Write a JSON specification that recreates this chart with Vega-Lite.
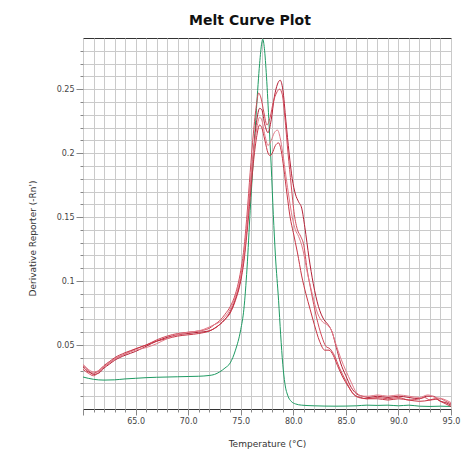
{
  "$schema": "https://vega.github.io/schema/vega-lite/v6.json",
  "width": 368,
  "height": 371,
  "autosize": "none",
  "padding": {"left": 83, "top": 38, "right": 13, "bottom": 41},
  "background": "white",
  "title": {"text": "Melt Curve Plot", "font": "DejaVu Sans", "fontSize": 14, "fontWeight": "bold", "color": "#111111", "anchor": "middle", "dx": -17, "offset": 10},
  "config": {
    "view": {"stroke": "#333333", "strokeWidth": 1},
    "axis": {
      "domain": false,
      "grid": true,
      "gridColor": "#cacaca",
      "gridWidth": 1,
      "tickColor": "#888888",
      "labelFont": "DejaVu Sans",
      "labelFontSize": 8,
      "labelColor": "#444444",
      "titleFont": "DejaVu Sans",
      "titleFontSize": 9,
      "titleFontWeight": "normal",
      "titleColor": "#333333"
    }
  },
  "data": {"values": [
    {"s":"G","t":60,"v":0.025},{"s":"G","t":60.5,"v":0.024},{"s":"G","t":61,"v":0.0232},{"s":"G","t":62,"v":0.0226},{"s":"G","t":63,"v":0.0228},{"s":"G","t":64,"v":0.0235},{"s":"G","t":65,"v":0.024},{"s":"G","t":66,"v":0.0245},{"s":"G","t":67,"v":0.0248},{"s":"G","t":68,"v":0.025},{"s":"G","t":69,"v":0.0252},{"s":"G","t":70,"v":0.0254},{"s":"G","t":71,"v":0.0256},{"s":"G","t":72,"v":0.0262},{"s":"G","t":72.5,"v":0.027},{"s":"G","t":73,"v":0.029},{"s":"G","t":73.5,"v":0.032},{"s":"G","t":74,"v":0.036},{"s":"G","t":74.5,"v":0.046},{"s":"G","t":75,"v":0.062},{"s":"G","t":75.3,"v":0.078},{"s":"G","t":75.6,"v":0.11},{"s":"G","t":75.9,"v":0.155},{"s":"G","t":76.2,"v":0.195},{"s":"G","t":76.5,"v":0.235},{"s":"G","t":76.8,"v":0.27},{"s":"G","t":77,"v":0.286},{"s":"G","t":77.1,"v":0.289},{"s":"G","t":77.25,"v":0.282},{"s":"G","t":77.45,"v":0.26},{"s":"G","t":77.7,"v":0.222},{"s":"G","t":77.9,"v":0.19},{"s":"G","t":78.1,"v":0.152},{"s":"G","t":78.3,"v":0.12},{"s":"G","t":78.6,"v":0.085},{"s":"G","t":78.8,"v":0.058},{"s":"G","t":79,"v":0.035},{"s":"G","t":79.2,"v":0.02},{"s":"G","t":79.5,"v":0.01},{"s":"G","t":79.8,"v":0.006},{"s":"G","t":80.2,"v":0.004},{"s":"G","t":80.8,"v":0.003},{"s":"G","t":82,"v":0.0025},{"s":"G","t":84,"v":0.0022},{"s":"G","t":86,"v":0.0025},{"s":"G","t":87,"v":0.003},{"s":"G","t":88,"v":0.0028},{"s":"G","t":89,"v":0.003},{"s":"G","t":90,"v":0.0025},{"s":"G","t":91,"v":0.003},{"s":"G","t":92,"v":0.0022},{"s":"G","t":93,"v":0.002},{"s":"G","t":94,"v":0.0022},{"s":"G","t":95,"v":0.002},

    {"s":"R1","t":60,"v":0.034},{"s":"R1","t":60.5,"v":0.03},{"s":"R1","t":61,"v":0.027},{"s":"R1","t":61.5,"v":0.028},{"s":"R1","t":62,"v":0.032},{"s":"R1","t":62.5,"v":0.035},{"s":"R1","t":63,"v":0.038},{"s":"R1","t":64,"v":0.042},{"s":"R1","t":65,"v":0.045},{"s":"R1","t":66,"v":0.049},{"s":"R1","t":67,"v":0.053},{"s":"R1","t":68,"v":0.056},{"s":"R1","t":69,"v":0.058},{"s":"R1","t":70,"v":0.059},{"s":"R1","t":71,"v":0.06},{"s":"R1","t":72,"v":0.061},{"s":"R1","t":72.5,"v":0.063},{"s":"R1","t":73,"v":0.066},{"s":"R1","t":73.5,"v":0.07},{"s":"R1","t":74,"v":0.076},{"s":"R1","t":74.5,"v":0.086},{"s":"R1","t":75,"v":0.102},{"s":"R1","t":75.3,"v":0.118},{"s":"R1","t":75.6,"v":0.142},{"s":"R1","t":75.9,"v":0.172},{"s":"R1","t":76.2,"v":0.2},{"s":"R1","t":76.5,"v":0.224},{"s":"R1","t":76.8,"v":0.235},{"s":"R1","t":77,"v":0.234},{"s":"R1","t":77.3,"v":0.222},{"s":"R1","t":77.6,"v":0.216},{"s":"R1","t":77.9,"v":0.226},{"s":"R1","t":78.2,"v":0.244},{"s":"R1","t":78.5,"v":0.254},{"s":"R1","t":78.75,"v":0.257},{"s":"R1","t":79,"v":0.25},{"s":"R1","t":79.3,"v":0.225},{"s":"R1","t":79.6,"v":0.2},{"s":"R1","t":79.9,"v":0.18},{"s":"R1","t":80.2,"v":0.168},{"s":"R1","t":80.5,"v":0.162},{"s":"R1","t":80.8,"v":0.157},{"s":"R1","t":81.1,"v":0.142},{"s":"R1","t":81.5,"v":0.118},{"s":"R1","t":81.9,"v":0.098},{"s":"R1","t":82.4,"v":0.08},{"s":"R1","t":82.9,"v":0.07},{"s":"R1","t":83.3,"v":0.066},{"s":"R1","t":83.7,"v":0.06},{"s":"R1","t":84.1,"v":0.048},{"s":"R1","t":84.5,"v":0.036},{"s":"R1","t":85,"v":0.026},{"s":"R1","t":85.5,"v":0.017},{"s":"R1","t":86,"v":0.012},{"s":"R1","t":86.6,"v":0.01},{"s":"R1","t":87.2,"v":0.009},{"s":"R1","t":88,"v":0.01},{"s":"R1","t":89,"v":0.009},{"s":"R1","t":90,"v":0.01},{"s":"R1","t":91,"v":0.009},{"s":"R1","t":92,"v":0.008},{"s":"R1","t":92.7,"v":0.01},{"s":"R1","t":93.3,"v":0.01},{"s":"R1","t":94,"v":0.006},{"s":"R1","t":94.5,"v":0.005},{"s":"R1","t":95,"v":0.003},

    {"s":"R2","t":60,"v":0.031},{"s":"R2","t":60.5,"v":0.028},{"s":"R2","t":61,"v":0.026},{"s":"R2","t":61.5,"v":0.029},{"s":"R2","t":62,"v":0.033},{"s":"R2","t":62.5,"v":0.036},{"s":"R2","t":63,"v":0.039},{"s":"R2","t":64,"v":0.043},{"s":"R2","t":65,"v":0.047},{"s":"R2","t":66,"v":0.05},{"s":"R2","t":67,"v":0.054},{"s":"R2","t":68,"v":0.057},{"s":"R2","t":69,"v":0.059},{"s":"R2","t":70,"v":0.06},{"s":"R2","t":71,"v":0.061},{"s":"R2","t":72,"v":0.063},{"s":"R2","t":72.5,"v":0.066},{"s":"R2","t":73,"v":0.069},{"s":"R2","t":73.5,"v":0.074},{"s":"R2","t":74,"v":0.08},{"s":"R2","t":74.5,"v":0.09},{"s":"R2","t":75,"v":0.108},{"s":"R2","t":75.3,"v":0.125},{"s":"R2","t":75.6,"v":0.152},{"s":"R2","t":75.9,"v":0.185},{"s":"R2","t":76.2,"v":0.215},{"s":"R2","t":76.5,"v":0.238},{"s":"R2","t":76.7,"v":0.247},{"s":"R2","t":76.9,"v":0.244},{"s":"R2","t":77.2,"v":0.232},{"s":"R2","t":77.5,"v":0.222},{"s":"R2","t":77.8,"v":0.228},{"s":"R2","t":78.1,"v":0.24},{"s":"R2","t":78.4,"v":0.247},{"s":"R2","t":78.7,"v":0.25},{"s":"R2","t":78.95,"v":0.246},{"s":"R2","t":79.2,"v":0.228},{"s":"R2","t":79.5,"v":0.2},{"s":"R2","t":79.8,"v":0.175},{"s":"R2","t":80.1,"v":0.152},{"s":"R2","t":80.4,"v":0.14},{"s":"R2","t":80.7,"v":0.135},{"s":"R2","t":81,"v":0.128},{"s":"R2","t":81.3,"v":0.11},{"s":"R2","t":81.7,"v":0.092},{"s":"R2","t":82.2,"v":0.072},{"s":"R2","t":82.7,"v":0.057},{"s":"R2","t":83.1,"v":0.049},{"s":"R2","t":83.5,"v":0.047},{"s":"R2","t":83.9,"v":0.042},{"s":"R2","t":84.4,"v":0.032},{"s":"R2","t":85,"v":0.022},{"s":"R2","t":85.6,"v":0.013},{"s":"R2","t":86.2,"v":0.009},{"s":"R2","t":87,"v":0.008},{"s":"R2","t":88,"v":0.009},{"s":"R2","t":89,"v":0.008},{"s":"R2","t":90,"v":0.009},{"s":"R2","t":91,"v":0.007},{"s":"R2","t":92,"v":0.008},{"s":"R2","t":92.5,"v":0.009},{"s":"R2","t":93,"v":0.007},{"s":"R2","t":94,"v":0.008},{"s":"R2","t":94.5,"v":0.006},{"s":"R2","t":95,"v":0.004},

    {"s":"R3","t":60,"v":0.033},{"s":"R3","t":60.5,"v":0.029},{"s":"R3","t":61,"v":0.028},{"s":"R3","t":61.5,"v":0.03},{"s":"R3","t":62,"v":0.034},{"s":"R3","t":62.5,"v":0.037},{"s":"R3","t":63,"v":0.04},{"s":"R3","t":64,"v":0.044},{"s":"R3","t":65,"v":0.047},{"s":"R3","t":66,"v":0.05},{"s":"R3","t":67,"v":0.053},{"s":"R3","t":68,"v":0.055},{"s":"R3","t":69,"v":0.057},{"s":"R3","t":70,"v":0.058},{"s":"R3","t":71,"v":0.059},{"s":"R3","t":72,"v":0.061},{"s":"R3","t":72.5,"v":0.063},{"s":"R3","t":73,"v":0.066},{"s":"R3","t":73.5,"v":0.07},{"s":"R3","t":74,"v":0.075},{"s":"R3","t":74.5,"v":0.085},{"s":"R3","t":75,"v":0.1},{"s":"R3","t":75.3,"v":0.115},{"s":"R3","t":75.6,"v":0.138},{"s":"R3","t":75.9,"v":0.165},{"s":"R3","t":76.2,"v":0.192},{"s":"R3","t":76.5,"v":0.212},{"s":"R3","t":76.8,"v":0.222},{"s":"R3","t":77,"v":0.22},{"s":"R3","t":77.3,"v":0.21},{"s":"R3","t":77.6,"v":0.2},{"s":"R3","t":77.8,"v":0.198},{"s":"R3","t":78,"v":0.2},{"s":"R3","t":78.3,"v":0.206},{"s":"R3","t":78.6,"v":0.208},{"s":"R3","t":78.85,"v":0.202},{"s":"R3","t":79.1,"v":0.188},{"s":"R3","t":79.4,"v":0.168},{"s":"R3","t":79.7,"v":0.15},{"s":"R3","t":80,"v":0.138},{"s":"R3","t":80.4,"v":0.122},{"s":"R3","t":80.8,"v":0.104},{"s":"R3","t":81.2,"v":0.09},{"s":"R3","t":81.6,"v":0.078},{"s":"R3","t":82,"v":0.066},{"s":"R3","t":82.5,"v":0.053},{"s":"R3","t":83,"v":0.046},{"s":"R3","t":83.4,"v":0.046},{"s":"R3","t":83.8,"v":0.042},{"s":"R3","t":84.2,"v":0.034},{"s":"R3","t":84.7,"v":0.025},{"s":"R3","t":85.2,"v":0.018},{"s":"R3","t":85.8,"v":0.011},{"s":"R3","t":86.4,"v":0.009},{"s":"R3","t":87,"v":0.008},{"s":"R3","t":88,"v":0.008},{"s":"R3","t":89,"v":0.007},{"s":"R3","t":90,"v":0.008},{"s":"R3","t":91,"v":0.007},{"s":"R3","t":92,"v":0.006},{"s":"R3","t":93,"v":0.007},{"s":"R3","t":93.5,"v":0.008},{"s":"R3","t":94,"v":0.006},{"s":"R3","t":95,"v":0.002},

    {"s":"R4","t":60,"v":0.035},{"s":"R4","t":60.5,"v":0.031},{"s":"R4","t":61,"v":0.029},{"s":"R4","t":61.5,"v":0.03},{"s":"R4","t":62,"v":0.033},{"s":"R4","t":62.5,"v":0.036},{"s":"R4","t":63,"v":0.039},{"s":"R4","t":64,"v":0.043},{"s":"R4","t":65,"v":0.046},{"s":"R4","t":66,"v":0.048},{"s":"R4","t":67,"v":0.051},{"s":"R4","t":68,"v":0.055},{"s":"R4","t":69,"v":0.058},{"s":"R4","t":70,"v":0.06},{"s":"R4","t":71,"v":0.061},{"s":"R4","t":72,"v":0.064},{"s":"R4","t":72.5,"v":0.066},{"s":"R4","t":73,"v":0.068},{"s":"R4","t":73.5,"v":0.072},{"s":"R4","t":74,"v":0.078},{"s":"R4","t":74.5,"v":0.088},{"s":"R4","t":75,"v":0.104},{"s":"R4","t":75.3,"v":0.12},{"s":"R4","t":75.6,"v":0.145},{"s":"R4","t":75.9,"v":0.175},{"s":"R4","t":76.2,"v":0.2},{"s":"R4","t":76.5,"v":0.218},{"s":"R4","t":76.8,"v":0.228},{"s":"R4","t":77,"v":0.226},{"s":"R4","t":77.3,"v":0.214},{"s":"R4","t":77.6,"v":0.206},{"s":"R4","t":77.9,"v":0.21},{"s":"R4","t":78.2,"v":0.216},{"s":"R4","t":78.5,"v":0.218},{"s":"R4","t":78.75,"v":0.212},{"s":"R4","t":79,"v":0.2},{"s":"R4","t":79.3,"v":0.182},{"s":"R4","t":79.6,"v":0.165},{"s":"R4","t":79.9,"v":0.15},{"s":"R4","t":80.2,"v":0.14},{"s":"R4","t":80.5,"v":0.135},{"s":"R4","t":80.9,"v":0.125},{"s":"R4","t":81.3,"v":0.108},{"s":"R4","t":81.8,"v":0.09},{"s":"R4","t":82.3,"v":0.075},{"s":"R4","t":82.8,"v":0.068},{"s":"R4","t":83.2,"v":0.066},{"s":"R4","t":83.6,"v":0.062},{"s":"R4","t":84,"v":0.052},{"s":"R4","t":84.5,"v":0.04},{"s":"R4","t":85,"v":0.03},{"s":"R4","t":85.5,"v":0.021},{"s":"R4","t":86,"v":0.013},{"s":"R4","t":86.6,"v":0.01},{"s":"R4","t":87.2,"v":0.01},{"s":"R4","t":88,"v":0.011},{"s":"R4","t":89,"v":0.01},{"s":"R4","t":90,"v":0.011},{"s":"R4","t":91,"v":0.01},{"s":"R4","t":92,"v":0.009},{"s":"R4","t":92.8,"v":0.011},{"s":"R4","t":93.5,"v":0.009},{"s":"R4","t":94.2,"v":0.008},{"s":"R4","t":95,"v":0.005}
  ]},
  "mark": {"type": "line", "strokeWidth": 1, "interpolate": "monotone", "clip": true},
  "encoding": {
    "x": {
      "field": "t", "type": "quantitative",
      "scale": {"domain": [60, 95], "nice": false, "zero": false},
      "axis": {
        "values": [60,61,62,63,64,65,66,67,68,69,70,71,72,73,74,75,76,77,78,79,80,81,82,83,84,85,86,87,88,89,90,91,92,93,94,95],
        "labelExpr": "datum.value % 5 == 0 && datum.value > 60 ? format(datum.value, '.1f') : ''",
        "tickSize": {"condition": {"test": "datum.value % 5 == 0", "value": 6}, "value": 3},
        "labelPadding": 2,
        "labelFlush": false,
        "labelOverlap": false,
        "title": "Temperature (°C)",
        "titleY": 34,
        "titleBaseline": "middle"
      }
    },
    "y": {
      "field": "v", "type": "quantitative",
      "scale": {"domain": [0, 0.29], "nice": false, "zero": false},
      "axis": {
        "values": [0.01,0.02,0.03,0.04,0.05,0.06,0.07,0.08,0.09,0.1,0.11,0.12,0.13,0.14,0.15,0.16,0.17,0.18,0.19,0.2,0.21,0.22,0.23,0.24,0.25,0.26,0.27,0.28],
        "labelExpr": "round(datum.value*100) % 5 == 0 ? format(datum.value, '') : ''",
        "tickSize": {"condition": {"test": "round(datum.value*100) % 5 == 0", "value": 7}, "value": 3},
        "labelPadding": 2,
        "labelOverlap": false,
        "title": "Derivative Reporter (-Rn')",
        "titleX": -51,
        "titleY": 200,
        "titleAngle": -90,
        "titleAlign": "center",
        "titleBaseline": "middle"
      }
    },
    "color": {
      "field": "s", "type": "nominal",
      "scale": {"domain": ["G", "R1", "R2", "R3", "R4"], "range": ["#1e9a62", "#b52036", "#d24a5a", "#c73444", "#e27a88"]},
      "legend": null
    }
  }
}
